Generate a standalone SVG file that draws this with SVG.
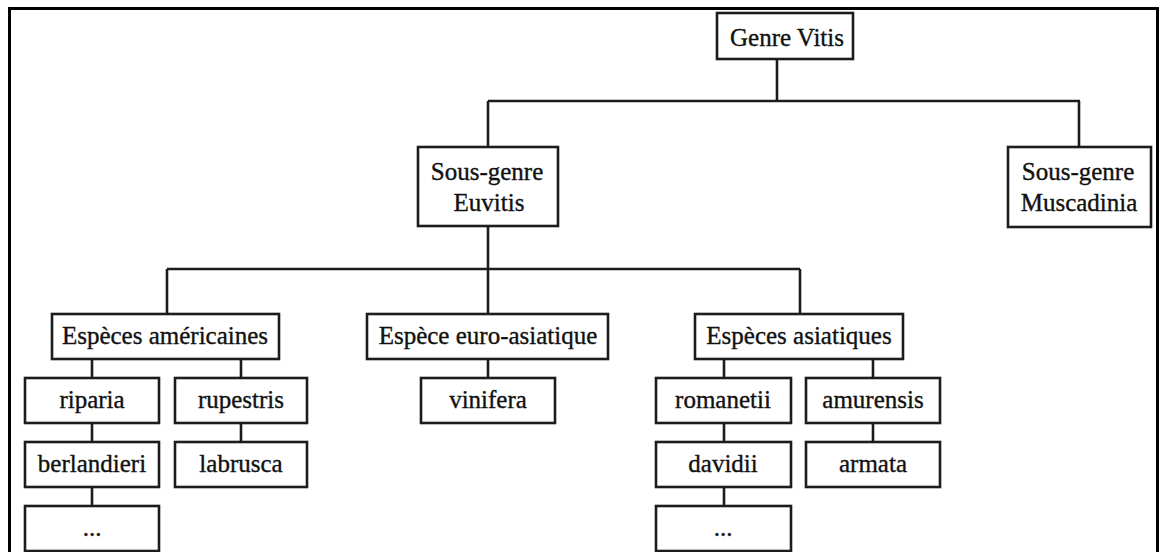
<svg xmlns="http://www.w3.org/2000/svg" width="1160" height="552" viewBox="0 0 1160 552">
<style>
.box{fill:#fff;stroke:#1c1c1c;stroke-width:2.6}
.t{font-family:"Liberation Serif","Times New Roman",serif;font-size:25px;fill:#111;stroke:#111;stroke-width:0.35;text-anchor:middle}
.c{stroke:#1c1c1c;stroke-width:2.6;fill:none}
.frame{stroke:#000;stroke-width:3;fill:none}
</style>
<rect x="0" y="0" width="1160" height="552" fill="#fff"/>
<path class="frame" d="M9.5 560 V8.5 H1157.5 V560"/>
<g id="connectors">
<path class="c" d="M777 59 V101 M488 101 H1080 M488 101 V147 M1079 101 V147"/>
<path class="c" d="M488 226 V269 M167 269 H800 M167 269 V314 M488 269 V314 M800 269 V314"/>
<path class="c" d="M92 359 V378 M92 423 V442 M92 487 V506 M241 359 V378 M241 423 V442 M488 359 V378 M724 359 V378 M724 423 V442 M724 487 V506 M873 359 V378 M873 423 V442"/>
</g>
<g id="n-genre"><rect class="box" x="717" y="13" width="136" height="46"/><text class="t" x="787" y="46">Genre Vitis</text></g>
<g id="n-euvitis"><rect class="box" x="418" y="147" width="140" height="79"/><text class="t" x="487" y="180">Sous-genre</text><text class="t" x="489" y="211">Euvitis</text></g>
<g id="n-muscadinia"><rect class="box" x="1008" y="147" width="143" height="80"/><text class="t" x="1078" y="180">Sous-genre</text><text class="t" x="1079" y="211">Muscadinia</text></g>
<g id="n-americaines"><rect class="box" x="52" y="314" width="227" height="45"/><text class="t" x="165" y="344">Espèces américaines</text></g>
<g id="n-euro"><rect class="box" x="367" y="314" width="241" height="45"/><text class="t" x="488" y="344">Espèce euro-asiatique</text></g>
<g id="n-asiatiques"><rect class="box" x="695" y="314" width="208" height="45"/><text class="t" x="799" y="344">Espèces asiatiques</text></g>
<g id="n-riparia"><rect class="box" x="25" y="378" width="134" height="45"/><text class="t" x="92" y="408">riparia</text></g>
<g id="n-berlandieri"><rect class="box" x="25" y="442" width="134" height="45"/><text class="t" x="92" y="472">berlandieri</text></g>
<g id="n-etc1"><rect class="box" x="25" y="506" width="134" height="45"/><text class="t" x="92" y="536">...</text></g>
<g id="n-rupestris"><rect class="box" x="175" y="378" width="132" height="45"/><text class="t" x="241" y="408">rupestris</text></g>
<g id="n-labrusca"><rect class="box" x="175" y="442" width="132" height="45"/><text class="t" x="241" y="472">labrusca</text></g>
<g id="n-vinifera"><rect class="box" x="421" y="378" width="134" height="45"/><text class="t" x="488" y="408">vinifera</text></g>
<g id="n-romanetii"><rect class="box" x="656" y="378" width="135" height="45"/><text class="t" x="723" y="408">romanetii</text></g>
<g id="n-davidii"><rect class="box" x="656" y="442" width="135" height="45"/><text class="t" x="723" y="472">davidii</text></g>
<g id="n-etc2"><rect class="box" x="656" y="506" width="135" height="45"/><text class="t" x="723" y="536">...</text></g>
<g id="n-amurensis"><rect class="box" x="806" y="378" width="134" height="45"/><text class="t" x="873" y="408">amurensis</text></g>
<g id="n-armata"><rect class="box" x="806" y="442" width="134" height="45"/><text class="t" x="873" y="472">armata</text></g>
</svg>
